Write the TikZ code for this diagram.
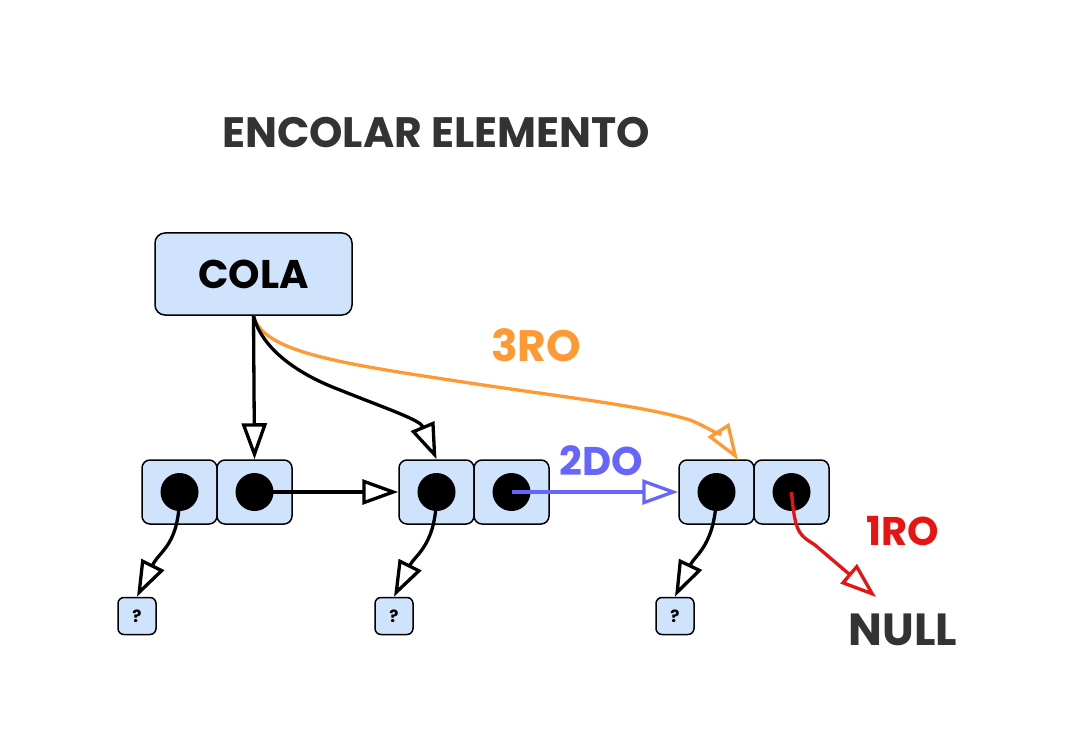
\documentclass[tikz,border=0pt]{standalone}
\usepackage{fontspec}
\setmainfont{Poppins}
\usetikzlibrary{arrows.meta}
\definecolor{cellfill}{HTML}{CFE3FD}
\definecolor{titlegray}{HTML}{333333}
\definecolor{orangeA}{HTML}{FF9933}
\definecolor{blueA}{HTML}{6666FF}
\definecolor{redA}{HTML}{E81414}
\tikzset{
  cell/.style={draw=black, line width=1.5pt, fill=cellfill, rounded corners=8pt, minimum width=75pt, minimum height=64pt, inner sep=0pt},
  dot/.style={circle, fill=black, minimum size=38pt, inner sep=0pt},
  qbox/.style={draw=black, line width=1.5pt, fill=cellfill, rounded corners=6pt, minimum width=38pt, minimum height=37pt, inner sep=0pt, font=\bfseries\fontsize{17}{17}\selectfont},
  link/.style={line width=3.3pt, -{Triangle[open, length=36pt, width=25pt]}},
  lbl/.style={font=\bfseries\fontsize{44}{44}\selectfont, inner sep=0pt}
}
\begin{document}
\begin{tikzpicture}[x=1pt, y=-1pt]
\useasboundingbox (0,0) rectangle (1073,743);
\node[lbl, text=titlegray, font=\bfseries\fontsize{42.5}{42.5}\selectfont] (title) at (436,133) {ENCOLAR ELEMENTO};
\node[draw=black, line width=1.5pt, fill=cellfill, rounded corners=10pt, minimum width=197pt, minimum height=82pt, inner sep=0pt, font=\bfseries\fontsize{40}{40}\selectfont] (cola) at (253.5,274) {COLA};
% cells
\node[cell] (c1a) at (179.5,492) {};
\node[cell] (c1b) at (254.5,492) {};
\node[cell] (c2a) at (436.5,492) {};
\node[cell] (c2b) at (511.5,492) {};
\node[cell] (c3a) at (716.5,492) {};
\node[cell] (c3b) at (791.5,492) {};
\node[dot] (d1a) at (c1a) {};
\node[dot] (d1b) at (c1b) {};
\node[dot] (d2a) at (c2a) {};
\node[dot] (d2b) at (c2b) {};
\node[dot] (d3a) at (c3a) {};
\node[dot] (d3b) at (c3b) {};
\coordinate (c3top) at (738,460);
\coordinate (nulltop) at (876,597);
% question boxes
\node[qbox] (q1) at (137,616) {?};
\node[qbox] (q2) at (394,616) {?};
\node[qbox] (q3) at (675,616) {?};
\node[lbl, text=titlegray, font=\bfseries\fontsize{45}{45}\selectfont] (null) at (903,630) {NULL};
% labels
\node[lbl, text=orangeA] (l3) at (536,345) {3RO};
\node[lbl, text=blueA, font=\bfseries\fontsize{40}{40}\selectfont] (l2) at (601,461) {2DO};
\node[lbl, text=redA, font=\bfseries\fontsize{40}{40}\selectfont] (l1) at (903,531) {1RO};
% connectors
\draw[link, draw=orangeA] (cola.south) .. controls (262,350) and (330,362) .. (450,380) .. controls (560,397) and (640,405) .. (690,420) .. controls (710,428) and (725,440) .. (c3top);
\draw[link] (cola.south) -- (c1b.north);
\draw[link] (cola.south) .. controls (262,350) and (300,375) .. (340,390) .. controls (390,410) and (420,420) .. (c2a.north);
\draw[link] (d1b.center) -- (c2a.west);
\draw[link, draw=blueA] (d2b.center) -- (c3a.west);
\draw[link] (d1a.center) .. controls (180,545) and (160,550) .. (q1.north);
\draw[link] (d2a.center) .. controls (437,545) and (415,555) .. (q2.north);
\draw[link] (d3a.center) .. controls (716,545) and (695,555) .. (q3.north);
\draw[link, draw=redA] (d3b.center) .. controls (795,535) and (800,535) .. (815,545) -- (nulltop);
\end{tikzpicture}
\end{document}
